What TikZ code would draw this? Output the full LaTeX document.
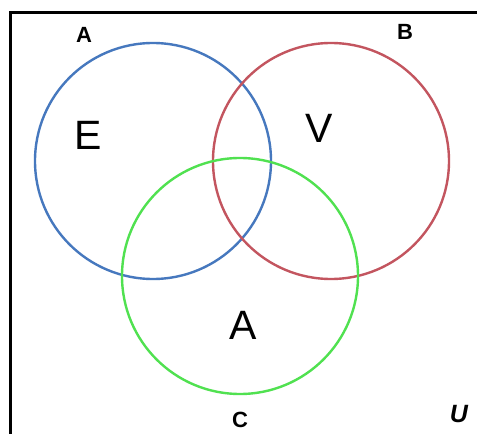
\documentclass[tikz,border=0pt]{standalone}
\usepackage{fontspec}
\setmainfont{Liberation Sans}
\definecolor{cblue}{RGB}{70,120,190}
\definecolor{cred}{RGB}{195,85,95}
\definecolor{cgreen}{RGB}{80,225,80}
\begin{document}
\begin{tikzpicture}[x=1pt,y=-1pt,
  setc/.style={line width=2.4pt},
  small/.style={font=\fontsize{22}{22}\selectfont\bfseries,inner sep=0pt},
  big/.style={font=\fontsize{41}{41}\selectfont,inner sep=0pt}]
\useasboundingbox (0,0) rectangle (477,434);
\fill[white] (0,0) rectangle (477,434);
\draw[line width=2.5pt] (10.5,434) -- (10.5,12.5) -- (477,12.5);
\draw[setc,cblue] (153,161) circle (118);
\draw[setc,cred] (331,161) circle (118);
\draw[setc,cgreen] (240,276) circle (118);
\node[small] (la) at (84,35) {A};
\node[small] (lb) at (405,32) {B};
\node[small] (lc) at (240,420) {C};
\node[font=\fontsize{25}{25}\selectfont\bfseries\itshape,inner sep=0pt] (lu) at (459,414) {U};
\node[big] (e) at (88.5,135) {E};
\node[big] (v) at (319.5,128) {V};
\node[big] (a) at (243,325) {A};
\end{tikzpicture}
\end{document}
